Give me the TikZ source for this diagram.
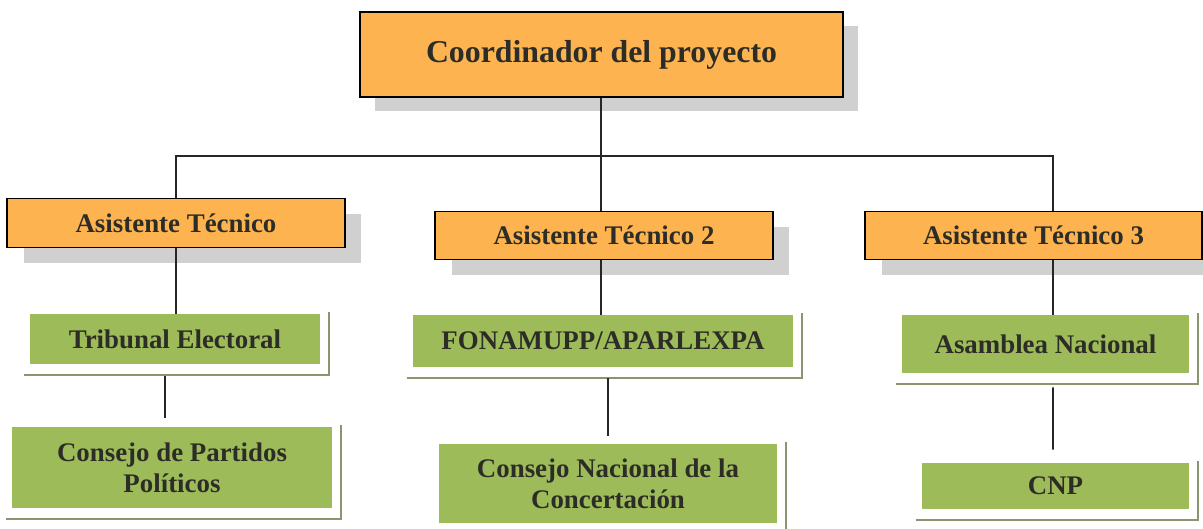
\documentclass[tikz,border=0pt]{standalone}
\usepackage{fontspec}
\setmainfont{Liberation Serif}
\usetikzlibrary{positioning,calc,shadows}

\definecolor{naranja}{RGB}{253,180,80}
\definecolor{verde}{RGB}{158,187,89}
\definecolor{sombra}{RGB}{208,208,208}
\definecolor{borde}{RGB}{140,150,110}
\definecolor{texto}{RGB}{45,45,40}

\begin{document}
\begin{tikzpicture}[x=0.02cm,y=-0.02cm,
jefe/.style={draw=black,thick,fill=naranja,text=texto,minimum width=9.66cm,minimum height=1.7cm,font=\fontsize{18.1}{22}\selectfont\bfseries,drop shadow={shadow xshift=0.3cm,shadow yshift=-0.28cm,fill=sombra,opacity=1}},
asis/.style={draw=black,thick,fill=naranja,text=texto,minimum width=6.76cm,minimum height=0.97cm,font=\fontsize{15.3}{18}\selectfont\bfseries,drop shadow={shadow xshift=0.33cm,shadow yshift=-0.31cm,fill=sombra,opacity=1}},
ent/.style={fill=verde,text=texto,inner sep=0pt,align=center,font=\fontsize{15.3}{17.5}\selectfont\bfseries},
linea/.style={line width=0.9pt,black!85},
marco/.style={line width=1pt,borde}]

\useasboundingbox (0,0) rectangle (1203,528);

% cargos
\node[jefe] (coord) at (601.5,54.5) {Coordinador del proyecto};
\node[asis] (at1) at (176,223) {Asistente Técnico};
\node[asis] (at2) at (604,235.5) {Asistente Técnico 2};
\node[asis, minimum width=6.74cm] (at3) at (1033.5,235.5) {Asistente Técnico 3};

% instituciones
\node[ent, minimum width=5.8cm, minimum height=1cm] (tri) at (175,339) {Tribunal Electoral};
\node[ent, minimum width=7.6cm, minimum height=1.04cm] (fon) at (603,341) {FONAMUPP/APARLEXPA};
\node[ent, minimum width=5.74cm, minimum height=1.16cm] (asa) at (1045.5,344) {Asamblea Nacional};
\node[ent, minimum width=6.4cm, minimum height=1.62cm] (cpp) at (172,467.5) {Consejo de Partidos\\Políticos};
\node[ent, minimum width=6.76cm, minimum height=1.58cm] (cnc) at (608,483.5) {Consejo Nacional de la\\Concertación};
\node[ent, minimum width=5.34cm, minimum height=0.92cm] (cnp) at (1055.5,486) {CNP};

\foreach \n in {tri,fon,asa,cpp,cnc,cnp}
  \draw[marco] ($(\n.south west)+(-6,11)$) -- ($(\n.south east)+(9,11)$) -- ($(\n.north east)+(9,-2)$);

% lineas
\coordinate (bus) at (601,156);
\coordinate (p3) at ($(at3.north)+(19.5,0)$);
\draw[linea] (bus |- coord.south) -- (bus);
\draw[linea] (at1.north) |- (bus) -| (p3);
\draw[linea] (bus) -- (bus |- at2.north);
\draw[linea] (at1.south) -- (at1.south |- tri.north);
\draw[linea] (bus |- at2.south) -- (bus |- fon.north);
\draw[linea] (p3 |- at3.south) -- (p3 |- asa.north);
\draw[linea] ($(tri.south)+(-10,12)$) -- ($(cpp.north)+(-7,-9)$);
\draw[linea] ($(fon.south)+(5,11)$) -- ($(cnc.north)+(0,-8)$);
\draw[linea] ($(asa.south)+(7.5,14)$) -- ($(cnp.north)+(-2.5,-13)$);
\end{tikzpicture}
\end{document}
